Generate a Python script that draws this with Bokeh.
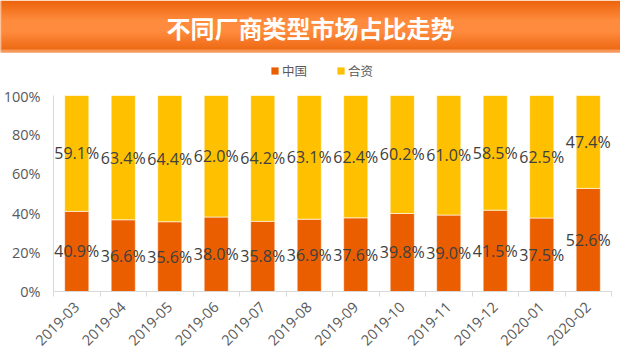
from bokeh.plotting import figure
from bokeh.layouts import column
from bokeh.models import (ColumnDataSource, Range1d, FixedTicker, Legend, LegendItem,
                          PrintfTickFormatter)
from bokeh.core.properties import value
from bokeh.embed import file_html
from bokeh.resources import INLINE

title_text = "不同厂商类型市场占比走势"
months = ["2019-03", "2019-04", "2019-05", "2019-06", "2019-07", "2019-08",
          "2019-09", "2019-10", "2019-11", "2019-12", "2020-01", "2020-02"]
china = [40.9, 36.6, 35.6, 38.0, 35.8, 36.9, 37.6, 39.8, 39.0, 41.5, 37.5, 52.6]
jv = [59.1, 63.4, 64.4, 62.0, 64.2, 63.1, 62.4, 60.2, 61.0, 58.5, 62.5, 47.4]
series_names = ["中国", "合资"]
y_ticks = [0, 20, 40, 60, 80, 100]

C_CN = "#EA5E00"
C_JV = "#FFC000"
FONT = "Open Sans"
CJK = "Noto Sans CJK SC"

W = 620
TOP_H = 86      # banner + legend strip
BAND_H = 52     # orange banner height

xs = list(range(len(months)))
src = ColumnDataSource(dict(
    x=xs, china=china, jv=jv,
    cn_mid=[c / 2 for c in china],
    jv_mid=[c + j / 2 for c, j in zip(china, jv)],
    cn_lab=["%.1f%%" % v for v in china],
    jv_lab=["%.1f%%" % v for v in jv],
))

# ---------- banner + legend strip ----------
top = figure(width=W, height=TOP_H, x_range=Range1d(0, W), y_range=Range1d(0, TOP_H),
             toolbar_location=None, output_backend="svg", min_border=0)
top.frame_align = False
top.axis.visible = False
top.grid.visible = False
top.outline_line_color = None
top.background_fill_color = "white"
top.border_fill_color = "white"


def hex2rgb(h):
    h = h.lstrip("#")
    return tuple(int(h[i:i + 2], 16) for i in (0, 2, 4))


def lerp(c1, c2, t):
    a, b = hex2rgb(c1), hex2rgb(c2)
    return "#%02x%02x%02x" % tuple(int(round(a[i] + (b[i] - a[i]) * t)) for i in range(3))


stops = [(0, "#EC640C"), (20, "#FF8C3F"), (30, "#FF8C3F"), (48, "#EE6A14"),
         (49, "#F5955A"), (51, "#F79A5C")]
tops, bots, cols = [], [], []
for py in range(0, BAND_H):
    c = stops[-1][1]
    for (a, ca), (b, cb) in zip(stops[:-1], stops[1:]):
        if a <= py <= b:
            t = 0 if b == a else (py - a) / (b - a)
            c = lerp(ca, cb, t)
            break
    tops.append(TOP_H - py)
    bots.append(TOP_H - py - (1 if py == BAND_H - 1 else 2))
    cols.append(c)
top.quad(left=0, right=W, top=tops, bottom=bots, fill_color=cols, line_color=None)
top.quad(left=0, right=1, top=TOP_H, bottom=TOP_H - BAND_H + 1, fill_color="#F6A571",
         line_color=None)
top.text(x=[W / 2], y=[TOP_H - 27], text=[title_text], text_color="white",
         text_font=value(CJK), text_font_style="bold", text_font_size="24px",
         text_align="center", text_baseline="middle")

# hidden series renderers that only feed the legend swatches
ghost = top.vbar_stack(["china", "jv"], x="x", width=0.52, source=src, color=[C_CN, C_JV],
                       line_color=None, visible=False)
legend = Legend(items=[LegendItem(label=series_names[0], renderers=[ghost[0]]),
                       LegendItem(label=series_names[1], renderers=[ghost[1]])],
                orientation="horizontal", location=(270, 6),
                glyph_width=9, glyph_height=9, label_standoff=3, spacing=29,
                label_text_font=CJK, label_text_font_size="12.5px",
                label_text_color="#595959", border_line_color=None,
                background_fill_alpha=0, padding=3, margin=0,
                inactive_fill_alpha=0)
top.add_layout(legend, "center")

# ---------- chart ----------
p = figure(width=W, height=353 - TOP_H, x_range=Range1d(-0.5, len(months) - 0.5),
           y_range=Range1d(0, 100), toolbar_location=None, output_backend="svg",
           min_border_left=50, min_border_right=9, min_border_top=9, min_border_bottom=60)
p.frame_align = False
p.grid.visible = False
p.outline_line_color = None
p.background_fill_color = "white"
p.border_fill_color = "white"

rs = p.vbar_stack(["china", "jv"], x="x", width=0.52, source=src, color=[C_CN, C_JV],
                  line_color="white", line_alpha=0.6, line_width=1)

p.text(x="x", y="cn_mid", text="cn_lab", source=src, text_align="center",
       text_baseline="middle", text_font=value(FONT), text_font_size="16px",
       text_color="#404040")
p.text(x="x", y="jv_mid", text="jv_lab", source=src, text_align="center",
       text_baseline="middle", text_font=value(FONT), text_font_size="16px",
       text_color="#404040")

ya = p.yaxis[0]
ya.ticker = FixedTicker(ticks=y_ticks)
ya.formatter = PrintfTickFormatter(format="%d%%")
ya.axis_line_color = "#D9D9D9"
ya.major_tick_out = 0
ya.major_tick_in = 0
ya.minor_tick_line_color = None
ya.major_label_text_font = FONT
ya.major_label_text_font_size = "14.5px"
ya.major_label_text_color = "#595959"
ya.major_label_standoff = 13

xa = p.xaxis[0]
xa.ticker = FixedTicker(ticks=xs, minor_ticks=[i - 0.5 for i in range(len(months) + 1)])
xa.major_label_overrides = {i: m for i, m in enumerate(months)}
xa.axis_line_color = "#D9D9D9"
xa.major_tick_out = 0
xa.major_tick_in = 0
xa.minor_tick_out = 5
xa.minor_tick_in = 0
xa.minor_tick_line_color = "#D9D9D9"
xa.major_label_orientation = 0.785398
xa.major_label_text_font = FONT
xa.major_label_text_font_size = "14.5px"
xa.major_label_text_color = "#595959"
xa.major_label_standoff = 8

layout = column(top, p, spacing=0)
open("out.html", "w").write(file_html(layout, INLINE))
